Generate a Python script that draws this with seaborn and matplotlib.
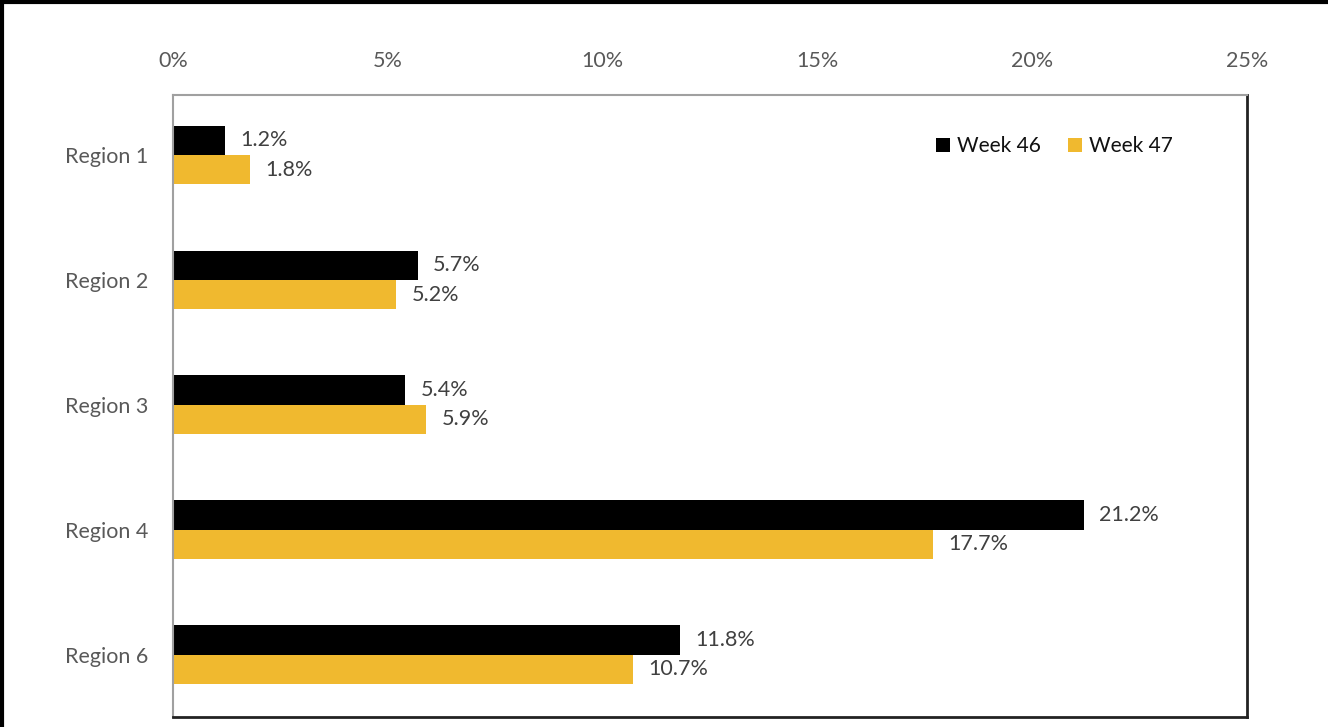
import pandas as pd
import numpy as np
import matplotlib
matplotlib.use("Agg")
import matplotlib.pyplot as plt
import seaborn as sns
from matplotlib.lines import Line2D
from matplotlib.patches import Patch

# data
regions = ["Region 1", "Region 2", "Region 3", "Region 4", "Region 6"]
week46 = [1.2, 5.7, 5.4, 21.2, 11.8]
week47 = [1.8, 5.2, 5.9, 17.7, 10.7]
series = ["Week 46", "Week 47"]
colors = ["#000000", "#F0B92F"]

df = pd.DataFrame({
    "Region": regions * 2,
    "Week": [series[0]] * len(regions) + [series[1]] * len(regions),
    "Value": week46 + week47,
})

sns.set_style("white")
plt.rcParams["font.family"] = ["Lato", "DejaVu Sans"]

fig = plt.figure(figsize=(13.28, 7.27), dpi=100)
ax = fig.add_axes([0.1303, 0.0138, 0.8087, 0.8555])

sns.barplot(data=df, y="Region", x="Value", hue="Week", orient="h",
            palette=colors, width=0.47, gap=0, ax=ax, legend=False,
            saturation=1, linewidth=0)

# value labels
for cont in ax.containers:
    ax.bar_label(cont, labels=[f"{w.get_width():.1f}%" for w in cont],
                 padding=11, fontsize=15.5, color="#404040")

ax.set_xlim(0, 25)
ax.set_ylim(4.5, -0.48)
ax.set_xticks([0, 5, 10, 15, 20, 25])
ax.set_xticklabels([f"{t}%" for t in [0, 5, 10, 15, 20, 25]])
ax.xaxis.tick_top()
ax.tick_params(axis="x", length=0, pad=17, labelsize=15.5, labelcolor="#595959")
ax.tick_params(axis="y", length=0, pad=18, labelsize=15.5, labelcolor="#595959")
ax.set_xlabel("")
ax.set_ylabel("")

for side in ["left", "top"]:
    ax.spines[side].set_color("#A0A0A0")
    ax.spines[side].set_linewidth(1.5)
for side in ["right", "bottom"]:
    ax.spines[side].set_color("#222222")
    ax.spines[side].set_linewidth(2)

handles = [Patch(facecolor=c, edgecolor="none") for c in colors]
ax.legend(handles, series, ncol=2, frameon=False, fontsize=15,
          loc="upper right", bbox_to_anchor=(0.948, 0.964),
          handlelength=0.7, handleheight=0.7, handletextpad=0.3,
          columnspacing=1.3, labelcolor="#111111")

# outer frame, cut off on the right and bottom like the reference
fig.add_artist(Line2D([0.0015, 0.0015], [0, 1], color="black", lw=3,
                      transform=fig.transFigure))
fig.add_artist(Line2D([0, 1], [0.9975, 0.9975], color="black", lw=3,
                      transform=fig.transFigure))

fig.savefig("out.png", dpi=100)
